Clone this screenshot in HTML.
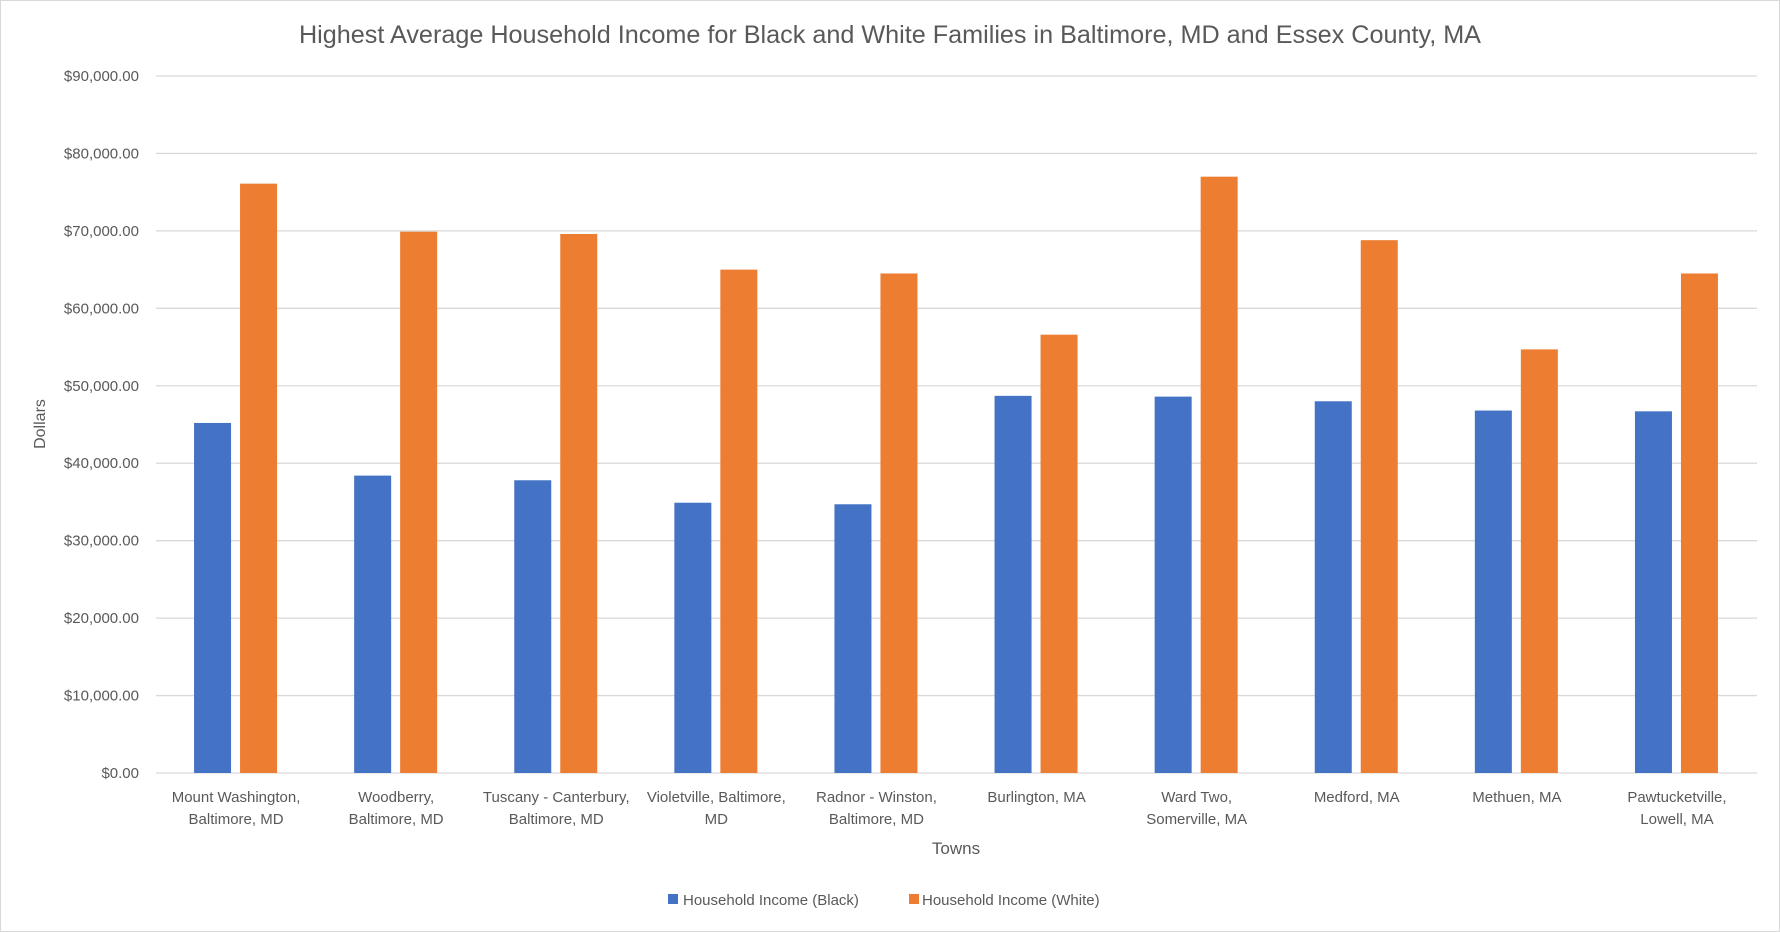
<!DOCTYPE html>
<html><head><meta charset="utf-8"><style>
body{margin:0;background:#fff}
svg{display:block;font-family:"Liberation Sans",sans-serif}
</style></head><body>
<svg id="c" width="1780" height="932">
<rect x="0.5" y="0.5" width="1779" height="931" fill="#fff" stroke="#d9d9d9"/>
<text x="890" y="43" text-anchor="middle" font-size="25.2" fill="#595959">Highest Average Household Income for Black and White Families in Baltimore, MD and Essex County, MA</text>
<text transform="translate(45,424) rotate(-90)" text-anchor="middle" font-size="16" fill="#595959">Dollars</text>
<text x="956" y="854" text-anchor="middle" font-size="17" fill="#595959">Towns</text>
<g id="grid"></g><g id="bars"></g><g id="xl"></g>
<g>
<rect x="668" y="894" width="10" height="10" fill="#4472c4"/>
<text x="683" y="905" font-size="15" fill="#595959">Household Income (Black)</text>
<rect x="909" y="894" width="10" height="10" fill="#ed7d31"/>
<text x="922" y="905" font-size="15" fill="#595959">Household Income (White)</text>
</g>
</svg>
<script>
const categories=[["Mount Washington,","Baltimore, MD"],["Woodberry,","Baltimore, MD"],["Tuscany - Canterbury,","Baltimore, MD"],["Violetville, Baltimore,","MD"],["Radnor - Winston,","Baltimore, MD"],["Burlington, MA"],["Ward Two,","Somerville, MA"],["Medford, MA"],["Methuen, MA"],["Pawtucketville,","Lowell, MA"]];
const blackIncome=[45200,38400,37800,34900,34700,48700,48600,48000,46800,46700];
const whiteIncome=[76100,69900,69600,65000,64500,56600,77000,68800,54700,64500];
const yTicks=[0,10000,20000,30000,40000,50000,60000,70000,80000,90000];
const NS="http://www.w3.org/2000/svg";
const L=156,R=1757,T=76,B=773,yMax=90000;
const y=v=>B-(v/yMax)*(B-T);
const gw=(R-L)/categories.length;
const x=i=>L+gw*i;
function mk(tag,attrs,parent){const e=document.createElementNS(NS,tag);for(const k in attrs)e.setAttribute(k,attrs[k]);parent.appendChild(e);return e;}
const grid=document.getElementById('grid'),bars=document.getElementById('bars'),xl=document.getElementById('xl');
yTicks.forEach(t=>{
 const l=mk('line',{x1:L,x2:R,y1:y(t),y2:y(t),stroke:'#d9d9d9','stroke-width':1.3},grid);
 
 
 const tx=mk('text',{x:139,y:y(t)+5,'text-anchor':'end','font-size':15,fill:'#595959'},grid);
 tx.textContent='$'+t.toLocaleString('en-US',{minimumFractionDigits:2});
 
 
});
categories.forEach((c,i)=>{
 const cx=x(i)+gw/2;
 const b=mk('rect',{x:cx-42,y:y(blackIncome[i]),width:37,height:B-y(blackIncome[i]),fill:'#4472c4'},bars);
 
 
 const w=mk('rect',{x:cx+4,y:y(whiteIncome[i]),width:37,height:B-y(whiteIncome[i]),fill:'#ed7d31'},bars);
 
 
 c.forEach((line,j)=>{
  const t=mk('text',{x:cx,y:802+j*22,'text-anchor':'middle','font-size':15,fill:'#595959'},xl);
  t.textContent=line;
  
  
 });
});
</script>
</body></html>
